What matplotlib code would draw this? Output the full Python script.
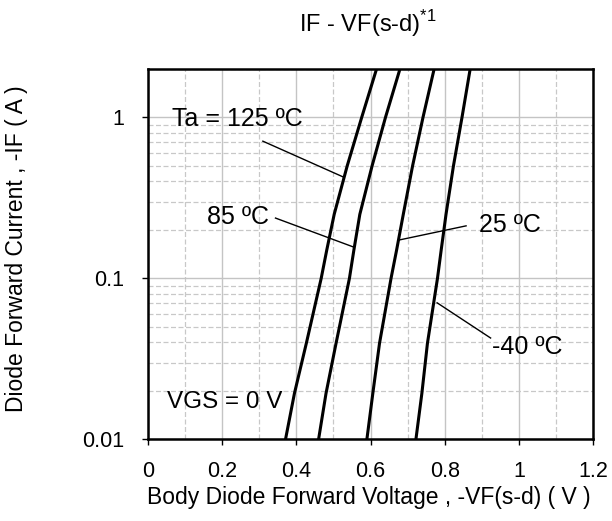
import matplotlib.pyplot as plt
import numpy as np
from matplotlib.ticker import LogLocator, MultipleLocator, NullFormatter

plt.rcParams['font.family'] = ['Liberation Sans', 'DejaVu Sans']

# forward current levels (A) and forward voltage read per temperature (V)
current = [0.01, 0.0193, 0.0395, 0.1, 0.15, 0.25, 0.5, 1, 2]
vf_125 = [0.371, 0.395, 0.427, 0.467, 0.482, 0.502, 0.537, 0.576, 0.616]
vf_85 = [0.460, 0.480, 0.507, 0.543, 0.555, 0.571, 0.604, 0.640, 0.679]
vf_25 = [0.590, 0.606, 0.624, 0.655, 0.670, 0.688, 0.713, 0.741, 0.771]
vf_m40 = [0.722, 0.738, 0.753, 0.780, 0.790, 0.803, 0.823, 0.846, 0.868]

x_ticks = [0, 0.2, 0.4, 0.6, 0.8, 1.0, 1.2]
x_labels = ["0", "0.2", "0.4", "0.6", "0.8", "1", "1.2"]
y_ticks = [0.01, 0.1, 1]
y_labels = ["0.01", "0.1", "1"]

fig = plt.figure(figsize=(6.12, 5.21), dpi=100)
ax = fig.add_axes([147.7/612, 1-439.3/521, 445.8/612, 370.3/521])

for v in [vf_125, vf_85, vf_25, vf_m40]:
    ax.plot(v, current, color="black", lw=2.2, zorder=3)

ax.set_yscale("log")
ax.set_xlim(0, 1.2)
ax.set_ylim(0.01, 2.0)
ax.set_xticks(x_ticks)
ax.set_xticklabels(x_labels)
ax.set_yticks(y_ticks)
ax.set_yticklabels(y_labels)
ax.xaxis.set_minor_locator(MultipleLocator(0.1))
ax.yaxis.set_minor_locator(LogLocator(base=10, subs=np.arange(2, 10)))
ax.yaxis.set_minor_formatter(NullFormatter())
ax.grid(which="major", color="#c4c4c4", lw=1.0, ls="-")
ax.grid(which="minor", color="#c8c8c8", lw=0.9, ls=(0, (4, 2)))
ax.tick_params(which="major", direction="out", length=4.3, width=1, labelsize=15.5)
ax.tick_params(axis="x", pad=11.5)
ax.tick_params(axis="y", pad=12.5)
ax.tick_params(which="minor", length=0)
for s in ax.spines.values():
    s.set_linewidth(1.8)

ax.set_xlabel("Body Diode Forward Voltage , -VF(s-d) ( V )", fontsize=16.5)
ax.xaxis.set_label_coords(0.497, -0.125)
ax.set_ylabel("Diode Forward Current , -IF ( A )", fontsize=16.5)
ax.yaxis.set_label_coords(-0.268, 0.515)
fig.text(299/612, 1-31.7/521, r"IF - VF(s-d)$^{\mathregular{*1}}$", fontsize=17, ha="left", va="baseline")

# labels with leader lines
ax.text(0.0655, 0.976, "Ta = 125 ºC", fontsize=18, va="center", ha="left")
ax.plot([0.310, 0.527], [0.712, 0.426], color="black", lw=1.0)
ax.text(0.160, 0.240, "85 ºC", fontsize=18, va="center", ha="left")
ax.plot([0.344, 0.556], [0.237, 0.156], color="black", lw=1.0)
ax.text(0.892, 0.214, "25 ºC", fontsize=18, va="center", ha="left")
ax.plot([0.676, 0.857], [0.173, 0.212], color="black", lw=1.0)
ax.text(0.927, 0.0374, "-40 ºC", fontsize=18, va="center", ha="left")
ax.plot([0.779, 0.923], [0.0705, 0.0426], color="black", lw=1.0)
ax.text(0.052, 0.017, "VGS = 0 V", fontsize=17.5, va="center", ha="left")

fig.savefig("out.png", dpi=100)
